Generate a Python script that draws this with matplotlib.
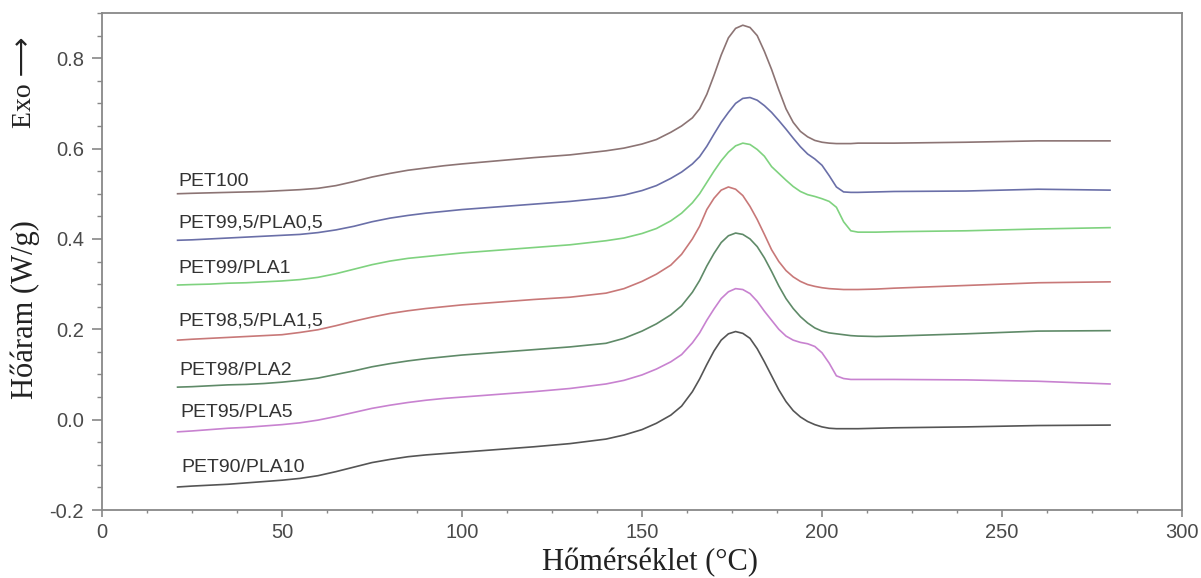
import matplotlib
matplotlib.use('Agg')
import matplotlib.pyplot as plt
from matplotlib.ticker import MultipleLocator, FormatStrFormatter

plt.rcParams['axes.unicode_minus'] = False

# temperature grid (°C) the curves were read at
temp = [21, 25, 30, 35, 40, 45, 50, 55, 60, 65, 70, 75, 80, 85, 90, 95, 100, 110,
        120, 130, 140, 145, 150, 154, 158, 161, 164, 166, 168, 170, 172, 174, 176,
        178, 180, 182, 184, 186, 188, 190, 192, 194, 196, 198, 200, 202, 204, 206,
        208, 210, 215, 220, 240, 260, 280]

pet100 = [0.500, 0.501, 0.502, 0.503, 0.504, 0.505, 0.507, 0.509, 0.512, 0.518,
          0.527, 0.537, 0.545, 0.552, 0.557, 0.562, 0.566, 0.573, 0.580, 0.586,
          0.595, 0.601, 0.610, 0.620, 0.636, 0.650, 0.668, 0.688, 0.720, 0.762,
          0.807, 0.845, 0.866, 0.873, 0.868, 0.850, 0.815, 0.775, 0.730, 0.688,
          0.658, 0.638, 0.626, 0.618, 0.614, 0.612, 0.611, 0.611, 0.611, 0.612,
          0.612, 0.612, 0.614, 0.617, 0.617]
pet995 = [0.397, 0.398, 0.400, 0.402, 0.404, 0.406, 0.408, 0.410, 0.414, 0.420,
          0.428, 0.438, 0.446, 0.452, 0.457, 0.461, 0.465, 0.471, 0.477, 0.483,
          0.491, 0.497, 0.507, 0.518, 0.534, 0.548, 0.566, 0.582, 0.605, 0.632,
          0.658, 0.680, 0.700, 0.711, 0.713, 0.707, 0.695, 0.680, 0.662, 0.643,
          0.623, 0.604, 0.588, 0.577, 0.563, 0.540, 0.515, 0.504, 0.503, 0.503,
          0.504, 0.505, 0.506, 0.510, 0.508]
pet99 = [0.298, 0.299, 0.300, 0.302, 0.303, 0.305, 0.307, 0.310, 0.315, 0.323,
         0.333, 0.343, 0.351, 0.357, 0.361, 0.365, 0.369, 0.375, 0.381, 0.387,
         0.396, 0.402, 0.412, 0.423, 0.440, 0.457, 0.480, 0.500, 0.525, 0.550,
         0.573, 0.592, 0.606, 0.612, 0.609, 0.598, 0.583, 0.560, 0.545, 0.530,
         0.516, 0.505, 0.498, 0.494, 0.489, 0.483, 0.470, 0.438, 0.418, 0.415,
         0.415, 0.416, 0.418, 0.422, 0.425]
pet985 = [0.176, 0.178, 0.180, 0.182, 0.184, 0.186, 0.188, 0.193, 0.199, 0.208,
          0.218, 0.227, 0.235, 0.241, 0.246, 0.250, 0.254, 0.260, 0.266, 0.271,
          0.280, 0.290, 0.306, 0.322, 0.342, 0.366, 0.400, 0.428, 0.465, 0.490,
          0.508, 0.515, 0.510, 0.496, 0.472, 0.443, 0.410, 0.376, 0.350, 0.330,
          0.316, 0.306, 0.299, 0.295, 0.292, 0.290, 0.289, 0.288, 0.288, 0.288,
          0.289, 0.291, 0.297, 0.303, 0.305]
pet98 = [0.072, 0.073, 0.075, 0.077, 0.078, 0.080, 0.083, 0.087, 0.092, 0.100,
         0.108, 0.117, 0.124, 0.130, 0.135, 0.139, 0.143, 0.149, 0.155, 0.161,
         0.169, 0.180, 0.196, 0.212, 0.232, 0.252, 0.282, 0.308, 0.340, 0.368,
         0.392, 0.407, 0.413, 0.410, 0.400, 0.383, 0.358, 0.328, 0.296, 0.268,
         0.246, 0.228, 0.214, 0.203, 0.196, 0.192, 0.190, 0.188, 0.186, 0.185,
         0.184, 0.185, 0.190, 0.196, 0.197]
pet95 = [-0.027, -0.025, -0.022, -0.019, -0.017, -0.014, -0.011, -0.007, -0.001, 0.007,
         0.016, 0.025, 0.032, 0.038, 0.043, 0.047, 0.050, 0.056, 0.062, 0.069,
         0.079, 0.087, 0.099, 0.112, 0.128, 0.144, 0.170, 0.192, 0.220, 0.245,
         0.268, 0.283, 0.290, 0.288, 0.279, 0.262, 0.240, 0.220, 0.200, 0.185,
         0.176, 0.171, 0.168, 0.162, 0.148, 0.125, 0.097, 0.091, 0.089, 0.089,
         0.089, 0.089, 0.088, 0.085, 0.079]
pet90 = [-0.149, -0.147, -0.145, -0.143, -0.140, -0.137, -0.134, -0.130, -0.124, -0.115,
         -0.105, -0.095, -0.088, -0.082, -0.078, -0.075, -0.072, -0.066, -0.060, -0.053,
         -0.043, -0.034, -0.022, -0.008, 0.010, 0.030, 0.062, 0.090, 0.122, 0.152,
         0.176, 0.190, 0.195, 0.191, 0.180, 0.157, 0.128, 0.097, 0.066, 0.040,
         0.020, 0.006, -0.004, -0.011, -0.016, -0.019, -0.020, -0.020, -0.020, -0.020,
         -0.019, -0.018, -0.016, -0.013, -0.012]

series = [pet100, pet995, pet99, pet985, pet98, pet95, pet90]
names = ['PET100', 'PET99,5/PLA0,5', 'PET99/PLA1', 'PET98,5/PLA1,5',
         'PET98/PLA2', 'PET95/PLA5', 'PET90/PLA10']
colors = ['#8c7474', '#6a6fa8', '#7fd27f', '#c87878', '#5f8a68', '#c882d0', '#555555']
label_x = [21.1, 21.1, 21.1, 21.3, 21.5, 21.8, 22.1]
label_y = [0.517, 0.425, 0.324, 0.209, 0.099, 0.006, -0.115]

fig = plt.figure(figsize=(12.01, 5.78), dpi=100)
ax = fig.add_axes([0.0849, 0.1176, 0.8993, 0.8599])

for s, c in zip(series, colors):
    ax.plot(temp, s, color=c, lw=1.2)

for n, lx, ly in zip(names, label_x, label_y):
    ax.text(lx, ly, n, ha='left', va='baseline', fontsize=14,
            family='Liberation Sans', color='#333333')

ax.set_xlim(0, 300)
ax.set_ylim(-0.2, 0.9)
ax.xaxis.set_major_locator(MultipleLocator(50))
ax.xaxis.set_minor_locator(MultipleLocator(12.5))
ax.yaxis.set_major_locator(MultipleLocator(0.2))
ax.yaxis.set_minor_locator(MultipleLocator(0.05))
ax.yaxis.set_major_formatter(FormatStrFormatter('%.1f'))

for sp in ax.spines.values():
    sp.set_color('#888888')
    sp.set_linewidth(1.3)
ax.tick_params(axis='both', which='both', direction='out', color='#888888',
               labelcolor='#4a4a4a', labelsize=14.5)
ax.tick_params(axis='x', which='major', length=5, width=1.2, pad=4)
ax.tick_params(axis='x', which='minor', length=2.5, width=1.0)
ax.tick_params(axis='y', which='major', length=7, width=1.2, pad=6)
ax.tick_params(axis='y', which='minor', length=3.5, width=1.0)
for lab in ax.get_xticklabels() + ax.get_yticklabels():
    lab.set_family('Liberation Sans')

fig.text(650 / 1201, 1 - 563 / 578, 'Hőmérséklet (°C)', ha='center', va='center',
         fontsize=22, family='Liberation Serif', color='#222222')
fig.text(25 / 1201, 1 - 310 / 578, 'Hőáram (W/g)', ha='center', va='center',
         rotation=90, fontsize=22, family='Liberation Serif', color='#222222')
fig.text(25 / 1201, 1 - 82 / 578, 'Exo ⟶', ha='center', va='center',
         rotation=90, fontsize=20, family=['Liberation Serif', 'DejaVu Sans'],
         color='#222222')

fig.savefig('out.png', dpi=100)
